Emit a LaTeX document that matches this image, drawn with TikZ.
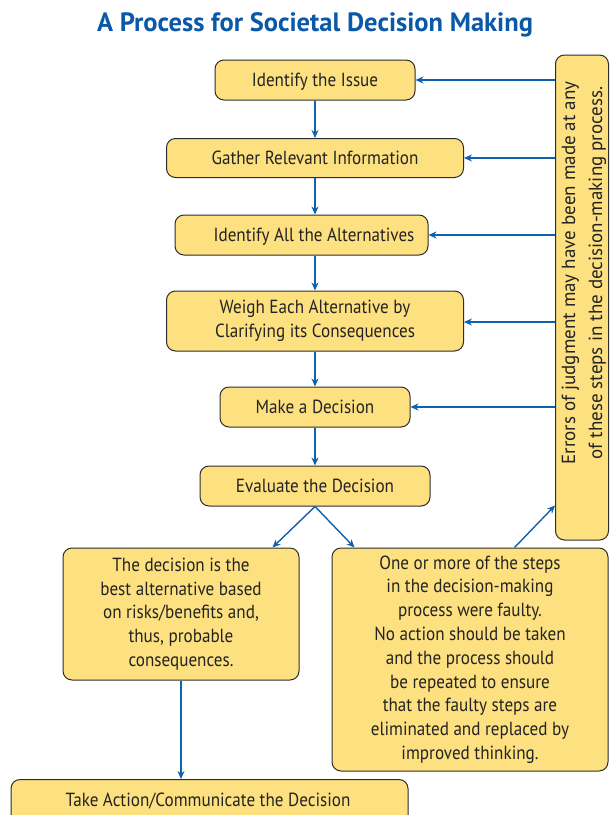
\documentclass[tikz,border=0pt]{standalone}
\usepackage{fontspec}
\setmainfont{PT Sans}
\newfontfamily\narrowfont[FakeStretch=0.9]{PT Sans}
\usetikzlibrary{arrows.meta,calc}
\definecolor{boxfill}{RGB}{253,224,127}
\definecolor{boxline}{RGB}{45,45,45}
\definecolor{textc}{RGB}{35,35,35}
\definecolor{arrowc}{RGB}{16,96,176}
\definecolor{titlec}{RGB}{10,88,168}
\tikzset{
  box/.style={draw=boxline, fill=boxfill, rounded corners=9pt, line width=1pt,
    text=textc, align=center, inner sep=0pt, font=\narrowfont\fontsize{19}{23.8}\selectfont},
  onel/.style={text depth=0pt},
  txt/.style={text=textc, font=\narrowfont\fontsize{19}{24}\selectfont, text depth=0pt},
  arr/.style={draw=arrowc, line width=1.4pt, -{Stealth[length=8pt,width=7pt]}},
}
\begin{document}
\begin{tikzpicture}[x=1pt,y=-1pt]
\useasboundingbox (0,0) rectangle (610,815);
\clip (0,0) rectangle (610,815);
\node[font=\fontsize{26.5}{30}\selectfont\bfseries, text=titlec] (title) at (315,25) {A Process for Societal Decision Making};

\node[box, onel, minimum width=200pt, minimum height=40pt] (issue) at (315,80) {Identify the Issue};
\node[box, onel, minimum width=297pt, minimum height=39pt] (gather) at (315,158) {Gather Relevant Information};
\node[box, minimum width=253pt, minimum height=40pt] (alt) at (301.5,235) {};
\node[txt] (alttext) at (314,235) {Identify All the Alternatives};
\node[box, minimum width=297pt, minimum height=60pt] (weigh) at (315,321) {Weigh Each Alternative by\\Clarifying its Consequences};
\node[box, onel, minimum width=190pt, minimum height=40pt] (make) at (315,407) {Make a Decision};
\node[box, onel, minimum width=230pt, minimum height=40pt] (eval) at (315,486) {Evaluate the Decision};
\node[box, minimum width=236pt, minimum height=132pt] (good) at (181,614) {The decision is the\\best alternative based\\on risks/benefits and,\\thus, probable\\consequences.};
\node[box, minimum width=276pt, minimum height=223pt] (bad) at (470,659.5) {One or more of the steps\\in the decision-making\\process were faulty.\\No action should be taken\\and the process should\\be repeated to ensure\\that the faulty steps are\\eliminated and replaced by\\improved thinking.};
\node[box, minimum width=397pt, minimum height=46pt, anchor=north] (act) at (209.5,779) {};
\node[txt] (acttext) at (208,800) {Take Action/Communicate the Decision};
\node[box, minimum width=53pt, minimum height=485pt] (errors) at (582,297.5) {};
\node[rotate=90, align=center, text=textc, font=\fontsize{19}{27}\selectfont] (errtext) at (584,273) {Errors of judgment may have been made at any\\of these steps in the decision-making process.};

\draw[arr] (issue.south) -- (gather.north);
\draw[arr] (gather.south) -- (gather.south |- alt.north);
\draw[arr] (alt.south -| weigh.north) -- (weigh.north);
\draw[arr] (weigh.south) -- (make.north);
\draw[arr] (make.south) -- (eval.north);
\draw[arr] (eval.south) -- ($(good.north east)+(-27,0)$);
\draw[arr] (eval.south) -- ($(bad.north west)+(23,0)$);
\draw[arr] ($(bad.north west)+(183,0)$) -- ($(errors.south west)+(0,-35)$);
\draw[arr] (good.south) -- (good.south |- act.north);

\draw[arr] (errors.west |- issue.east) -- (issue.east);
\draw[arr] (errors.west |- gather.east) -- (gather.east);
\draw[arr] (errors.west |- alt.east) -- (alt.east);
\draw[arr] ($(errors.west |- weigh.east)+(0,1)$) -- ($(weigh.east)+(0,1)$);
\draw[arr] (errors.west |- make.east) -- (make.east);
\end{tikzpicture}
\end{document}
